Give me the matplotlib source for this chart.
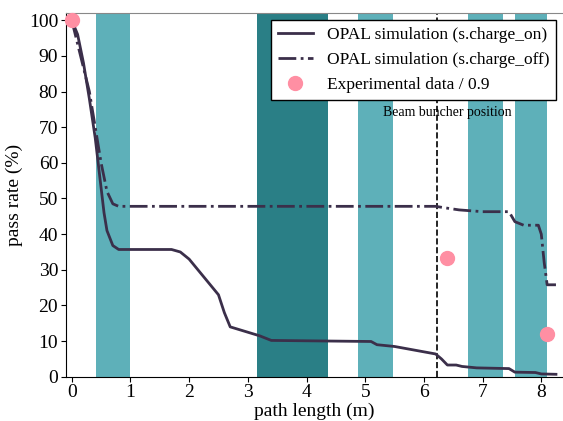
import matplotlib
matplotlib.use('Agg')
import matplotlib.pyplot as plt
import numpy as np

plt.rcParams['font.family'] = ['Liberation Serif', 'DejaVu Serif']
plt.rcParams['mathtext.fontset'] = 'stix'

# data
sc_on_x = [0, 0.1, 0.2, 0.3, 0.4, 0.5, 0.55, 0.6, 0.7, 0.8, 1.7, 1.85, 2.0, 2.2, 2.4, 2.5,
           2.6, 2.7, 2.9, 3.2, 3.4, 5.1, 5.2, 5.5, 6.0, 6.2, 6.3, 6.4, 6.55, 6.65, 6.9,
           7.45, 7.55, 7.9, 8.0, 8.25]
sc_on_y = [100, 96, 88, 78, 67, 53, 46, 41, 36.8, 35.7, 35.7, 35, 33, 29, 25, 23,
           18, 14, 13, 11.5, 10.2, 9.9, 9.0, 8.5, 7.0, 6.4, 5.0, 3.3, 3.3, 2.9, 2.5,
           2.3, 1.3, 1.2, 0.8, 0.7]
sc_off_x = [0, 0.3, 0.5, 0.6, 0.7, 0.8, 6.2, 6.35, 6.6, 7.0, 7.45, 7.55, 7.7, 7.95, 8.0,
            8.05, 8.1, 8.25]
sc_off_y = [100, 80, 60, 52, 48.5, 47.8, 47.8, 47.4, 46.8, 46.3, 46.3, 43.5, 42.5, 42.5, 40,
            32, 25.8, 25.8]
exp_x = [0, 6.4, 8.1]
exp_y = [100, 33.3, 12]

light_bands = [(0.42, 1.0), (4.87, 5.47), (6.75, 7.35), (7.55, 8.1)]
dark_bands = [(3.15, 4.37)]
buncher_pos = 6.22

fig = plt.figure(figsize=(5.63, 4.21), dpi=100)
ax = fig.add_axes([0.117, 0.105, 0.883, 0.864])

for a, b in light_bands:
    ax.axvspan(a, b, color='#5eb0b9', lw=0)
for a, b in dark_bands:
    ax.axvspan(a, b, color='#2a7f86', lw=0)

ax.axvline(buncher_pos, color='black', ls='--', lw=1.2)
ax.text(6.4, 74, 'Beam buncher position', ha='center', va='center', fontsize=10)

line_col = '#3b2f4a'
ax.plot(sc_on_x, sc_on_y, color=line_col, lw=2, label='OPAL simulation (s.charge_on)')
ax.plot(sc_off_x, sc_off_y, color=line_col, lw=2, ls='-.', label='OPAL simulation (s.charge_off)')
ax.plot(exp_x, exp_y, 'o', color='#ff8fa3', ms=10, label='Experimental data / 0.9', clip_on=False, zorder=5)

ax.set_xlim(-0.1, 8.37)
ax.set_ylim(0, 102)
ax.set_xticks(range(0, 9))
ax.set_yticks(range(0, 101, 10))
ax.tick_params(labelsize=14, pad=2)
ax.set_xlabel('path length (m)', fontsize=14, labelpad=1)
ax.set_ylabel('pass rate (%)', fontsize=14, labelpad=4)

ax.spines['top'].set_color('#888888')
ax.spines['right'].set_visible(False)

leg = ax.legend(loc='upper right', fontsize=12.5, fancybox=False, edgecolor='black',
                framealpha=1, borderaxespad=0.4)
leg.get_frame().set_linewidth(1.0)

plt.savefig('out.png', dpi=100)
